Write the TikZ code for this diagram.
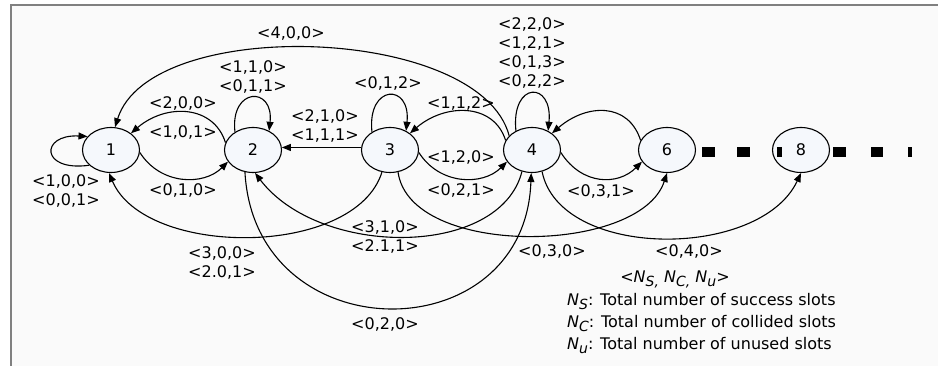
\documentclass[tikz,border=0pt]{standalone}
\usepackage{fontspec}
\setmainfont{DejaVu Sans}
\usetikzlibrary{shapes.geometric,arrows.meta}
\definecolor{nodefill}{RGB}{245,248,252}
\definecolor{bgc}{RGB}{250,250,250}
\definecolor{framec}{RGB}{128,128,128}
\newcommand\Nsb[1]{\textit{N}\raisebox{-0.45ex}{\fontsize{14}{14}\selectfont\textit{#1}}}
\begin{document}
\begin{tikzpicture}[x=1pt,y=-1pt,
  st/.style={ellipse,draw,line width=1.1pt,fill=nodefill,minimum width=57pt,minimum height=45pt,inner sep=0pt,font=\fontsize{16}{19}\selectfont},
  lbl/.style={font=\fontsize{16}{19}\selectfont,align=center,inner sep=0pt},
  edge/.style={line width=1.1pt,-{Triangle[length=9pt,width=7pt]}},
  dotsq/.style={fill=black},
]
\useasboundingbox (0,0) rectangle (938,366);
\fill[bgc] (11,5) rectangle (938,366);
\draw[framec,line width=1.3pt] (11,366) -- (11,5) -- (938,5);

% states
\node[st] (n1) at (111,150) {1};
\node[st] (n2) at (253,150) {2};
\node[st] (n3) at (390,150) {3};
\node[st] (n4) at (532,150) {4};
\node[st] (n6) at (667,150) {6};
\node[st] (n8) at (801,150) {8};

% dotted continuation
\fill[dotsq] (702,147) rectangle (715,157);
\fill[dotsq] (737,147) rectangle (750,157);
\fill[dotsq] (777,147) rectangle (782,157);
\fill[dotsq] (833,147) rectangle (846,157);
\fill[dotsq] (871,147) rectangle (883,157);
\fill[dotsq] (908,147) rectangle (912,157);

% self loops
\draw[edge] (n1.215) .. controls (40,172) and (40,134) .. (n1.150);
\draw[edge] (n2.135) .. controls +(-5,-45) and +(5,-45) .. (n2.50);
\draw[edge] (n3.135) .. controls +(-5,-48) and +(5,-48) .. (n3.50);
\draw[edge] (n4.130) .. controls +(-5,-50) and +(5,-50) .. (n4.50);

% forward short arcs (below)
\draw[edge] (n1.-5) .. controls +(21,33) and +(-24,24) .. (n2.205);
\draw[edge] (n3.-5) .. controls +(21,33) and +(-24,24) .. (n4.205);
\draw[edge] (n4.-5) .. controls +(21,33) and +(-24,24) .. (n6.205);

% backward short arcs (above)
\draw[edge] (n2.165) .. controls +(-12,-38) and +(35,-30) .. (n1.40);
\draw[edge] (n4.160) .. controls +(-12,-38) and +(35,-30) .. (n3.40);
\draw[edge] (n6.160) .. controls +(-12,-38) and +(35,-30) .. (n4.40);

% straight 3 -> 2
\draw[edge] (n3.175) -- (n2.5);

% long arcs
\draw[edge] (n4.148) .. controls (480,25) and (150,15) .. (n1.80);
\draw[edge] (n3.250) .. controls (355,258) and (145,258) .. (n1.265);
\draw[edge] (n4.245) .. controls (500,258) and (320,258) .. (n2.275);
\draw[edge] (n2.250) .. controls (255,353) and (525,353) .. (n4.268);
\draw[edge] (n3.290) .. controls (410,258) and (640,255) .. (n6.270);
\draw[edge] (n4.295) .. controls (560,260) and (760,260) .. (n8.270);

% labels
\node[lbl] (l400) at (291,33) {<4,0,0>};
\node[lbl] (l110) at (253,77) {<1,1,0>\\<0,1,1>};
\node[lbl] (l200) at (183,103) {<2,0,0>};
\node[lbl] (l101) at (183,132) {<1,0,1>};
\node[lbl] (l100) at (66,191) {<1,0,0>\\<0,0,1>};
\node[lbl] (l010) at (183,190) {<0,1,0>};
\node[lbl] (l210) at (325,126) {<2,1,0>\\<1,1,1>};
\node[lbl] (l012) at (388,83) {<0,1,2>};
\node[lbl] (l112) at (461,103) {<1,1,2>};
\node[lbl] (l120) at (461,157) {<1,2,0>};
\node[lbl] (l021) at (461,190) {<0,2,1>};
\node[lbl] (l220) at (532,53) {<2,2,0>\\<1,2,1>\\<0,1,3>\\<0,2,2>};
\node[lbl] (l031) at (601,191) {<0,3,1>};
\node[lbl] (l030) at (552,251) {<0,3,0>};
\node[lbl] (l040) at (689,251) {<0,4,0>};
\node[lbl] (l310) at (385,237) {<3,1,0>\\<2.1,1>};
\node[lbl] (l300) at (222,263) {<3,0,0>\\<2.0,1>};
\node[lbl] (l020) at (385,324) {<0,2,0>};

% legend
\node[lbl,anchor=base] (g0) at (675,283) {<\Nsb{S,} \Nsb{C,} \Nsb{u}>};
\node[lbl,anchor=base west] (g1) at (567,306) {\Nsb{S}: Total number of success slots};
\node[lbl,anchor=base west] (g2) at (567,328) {\Nsb{C}: Total number of collided slots};
\node[lbl,anchor=base west] (g3) at (567,350) {\Nsb{u}: Total number of unused slots};
\end{tikzpicture}
\end{document}
